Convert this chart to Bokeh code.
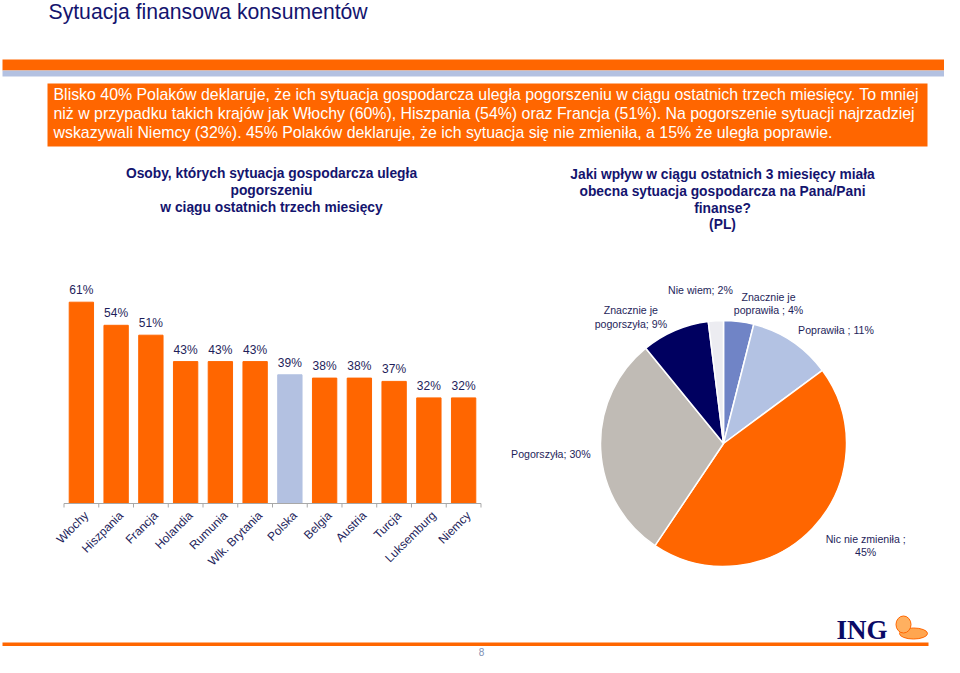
import math
from bokeh.plotting import figure
from bokeh.layouts import column, row
from bokeh.models import Range1d, FactorRange, ColumnDataSource
from bokeh.transform import dodge
from bokeh.embed import file_html
from bokeh.resources import INLINE
from bokeh.core.properties import value

# ---------------- data ----------------
title_text = "Sytuacja finansowa konsumentów"
summary_lines = [
    "Blisko 40% Polaków deklaruje, że ich sytuacja gospodarcza uległa pogorszeniu w ciągu ostatnich trzech miesięcy. To mniej",
    "niż w przypadku takich krajów jak Włochy (60%), Hiszpania (54%) oraz Francja (51%). Na pogorszenie sytuacji najrzadziej",
    "wskazywali Niemcy (32%). 45% Polaków deklaruje, że ich sytuacja się nie zmieniła, a 15% że uległa poprawie.",
]
bar_title_lines = ["Osoby, których sytuacja gospodarcza uległa", "pogorszeniu",
                   "w ciągu ostatnich trzech miesięcy"]
pie_title_lines = ["Jaki wpływ w ciągu ostatnich 3 miesięcy miała",
                   "obecna sytuacja gospodarcza na Pana/Pani", "finanse?", "(PL)"]

countries = ["Włochy", "Hiszpania", "Francja", "Holandia", "Rumunia", "Wlk. Brytania",
             "Polska", "Belgia", "Austria", "Turcja", "Luksemburg", "Niemcy"]
worse_pct = [61, 54, 51, 43, 43, 43, 39, 38, 38, 37, 32, 32]
highlight_country = "Polska"

pie_categories = ["Znacznie je poprawiła", "Poprawiła", "Nic nie zmieniła",
                  "Pogorszyła", "Znacznie je pogorszyła", "Nie wiem"]
pie_values = [4, 11, 45, 30, 9, 2]
pie_label_text = ["Znacznie je\npoprawiła ; 4%", "Poprawiła ; 11%", "Nic nie zmieniła ;\n45%",
                  "Pogorszyła; 30%", "Znacznie je\npogorszyła; 9%", "Nie wiem; 2%"]

page_number = "8"

# ---------------- style ----------------
FONT = "Liberation Sans"
NAVY = "#1e1e5a"
TITLE_BLUE = "#14146e"
ORANGE = "#ff6600"
LIGHT_BLUE = "#b3c1e1"
AXIS_GRAY = "#a8a8a8"
pie_colors = ["#7084c6", "#b3c2e3", ORANGE, "#c0bbb5", "#000060", "#ececf1"]
pie_label_nudge_deg = [10.7, 10.8, -8.0, -0.9, -13.0, -5.0]
pie_label_dist = [147, 160, 175, 173, 157, 155]
PIE_R = 123

W = 944
PX_PER_PCT = 3.30
BAR_W = 506          # width of the bar-chart panel
BAR_LEFT = 38        # left border of its frame
CAT_PAD = 0.734      # padding (in category widths) on each side of the factors
TICK_LEN_PX = 4


def blank(w, h, xr, yr):
    p = figure(width=w, height=h, x_range=xr, y_range=yr, output_backend="svg",
               toolbar_location=None, min_border=0, x_axis_location=None, y_axis_location=None)
    p.grid.visible = False
    p.outline_line_color = None
    return p


# ---------------- header ----------------
HH = 240
hdr = blank(W, HH, Range1d(0, W), Range1d(HH, 0))
hdr.text(x=[48], y=[11], text=[title_text], text_font=value(FONT), text_font_size="21.2px",
         text_color=TITLE_BLUE, text_baseline="middle")
hdr.quad(left=[2], right=[W], top=[59], bottom=[70], fill_color=ORANGE, line_color=None)
hdr.quad(left=[2], right=[W], top=[70], bottom=[76], fill_color=LIGHT_BLUE, line_color=None)
hdr.quad(left=[47], right=[927], top=[83], bottom=[146], fill_color=ORANGE, line_color=None)
hdr.text(x=[53] * 3, y=[94, 113, 132], text=summary_lines, text_font=value(FONT),
         text_font_size="15.9px", text_color="white", text_baseline="middle")
hdr.text(x=[271] * 3, y=[173, 190, 207], text=bar_title_lines, text_font=value(FONT),
         text_font_size="13.8px", text_font_style="bold", text_color=TITLE_BLUE,
         text_align="center", text_baseline="middle")
hdr.text(x=[722] * 4, y=[174, 191, 208, 224], text=pie_title_lines, text_font=value(FONT),
         text_font_size="13.8px", text_font_style="bold", text_color=TITLE_BLUE,
         text_align="center", text_baseline="middle")

# ---------------- bar chart ----------------
MH = 360
BASE_FROM_TOP = 263          # pixel distance from top of this panel to the zero line
bar_src = ColumnDataSource(dict(
    country=countries, pct=worse_pct,
    label=[f"{v}%" for v in worse_pct],
    zero=[0] * len(countries),
    tick=[-TICK_LEN_PX / PX_PER_PCT] * len(countries),
    color=[LIGHT_BLUE if c == highlight_country else ORANGE for c in countries],
))
xr = FactorRange(*countries, range_padding=CAT_PAD, range_padding_units="absolute")
bp = figure(width=BAR_W, height=MH, x_range=xr,
            y_range=Range1d(-(MH - BASE_FROM_TOP) / PX_PER_PCT, BASE_FROM_TOP / PX_PER_PCT),
            output_backend="svg", toolbar_location=None,
            x_axis_location=None, y_axis_location=None,
            min_border_left=BAR_LEFT, min_border_right=0, min_border_top=0, min_border_bottom=0)
bp.grid.visible = False
bp.outline_line_color = None
bp.vbar(x="country", top="pct", width=0.7, color="color", source=bar_src)
bp.text(x="country", y="pct", text="label", source=bar_src, text_font=value(FONT),
        text_font_size="12px", text_color=NAVY, text_align="center",
        text_baseline="bottom", y_offset=-5)
# category axis: line across all categories and ticks at category boundaries
axis_src = ColumnDataSource(dict(first=[countries[0]], last=[countries[-1]], zero=[0],
                                 tick=[-TICK_LEN_PX / PX_PER_PCT]))
bp.segment(x0=dodge("first", -0.5, range=xr), x1=dodge("last", 0.5, range=xr),
           y0="zero", y1="zero", source=axis_src, line_color=AXIS_GRAY, line_width=1)
bp.segment(x0=dodge("country", -0.5, range=xr), x1=dodge("country", -0.5, range=xr),
           y0="zero", y1="tick", source=bar_src, line_color=AXIS_GRAY, line_width=1)
bp.segment(x0=dodge("last", 0.5, range=xr), x1=dodge("last", 0.5, range=xr),
           y0="zero", y1="tick", source=axis_src, line_color=AXIS_GRAY, line_width=1)
# category labels along the zero line (rotated like axis labels)
bp.text(x="country", y="zero", text="country", source=bar_src, text_font=value(FONT),
        text_font_size="12px", text_color=NAVY, text_align="right",
        text_baseline="middle", angle=math.pi / 4, x_offset=5, y_offset=10)

# ---------------- pie chart ----------------
PIE_W = W - BAR_W
pie_cx = 723 - BAR_W
pp = blank(PIE_W, MH, Range1d(-pie_cx, PIE_W - pie_cx), Range1d(-157, 203))
total = sum(pie_values)
starts, ends, lx, ly = [], [], [], []
cum = 0
for v, nud, d in zip(pie_values, pie_label_nudge_deg, pie_label_dist):
    c0, c1 = cum, cum + v
    starts.append(math.pi / 2 - 2 * math.pi * c0 / total)
    ends.append(math.pi / 2 - 2 * math.pi * c1 / total)
    mid = math.radians(360 * (c0 + c1) / 2 / total + nud)
    lx.append(d * math.sin(mid))
    ly.append(d * math.cos(mid))
    cum = c1
pie_src = ColumnDataSource(dict(cat=pie_categories, val=pie_values, start=starts, end=ends,
                                color=pie_colors, lx=lx, ly=ly, label=pie_label_text))
pp.wedge(x=0, y=0, radius=PIE_R, start_angle="start", end_angle="end", direction="clock",
         fill_color="color", line_color="white", line_width=1.5, source=pie_src)
pp.text(x="lx", y="ly", text="label", source=pie_src, text_font=value(FONT),
        text_font_size="10.6px", text_color=NAVY, text_align="center",
        text_baseline="middle", text_line_height=1.15)

# ---------------- footer ----------------
FH = 57
ft = blank(W, FH, Range1d(0, W), Range1d(FH, 0))
ft.quad(left=[2], right=[928], top=[42], bottom=[45.5], fill_color=ORANGE, line_color=None)
ft.text(x=[836], y=[29], text=["ING"], text_font=value("Liberation Serif"),
        text_font_size="27px", text_font_style="bold", text_color="#0a0a66",
        text_baseline="middle")
ft.ellipse(x=[913], y=[33], width=[28], height=[11], fill_color="#ffa650", line_color=ORANGE)
ft.ellipse(x=[903], y=[24], width=[15], height=[17], fill_color="#ffb060", line_color=ORANGE)
ft.text(x=[481], y=[51], text=[page_number], text_font=value(FONT), text_font_size="10px",
        text_color="#8090b4", text_align="center", text_baseline="middle")

layout = column(hdr, row(bp, pp, spacing=0), ft, spacing=0)

with open("out.html", "w") as f:
    f.write(file_html(layout, INLINE))
